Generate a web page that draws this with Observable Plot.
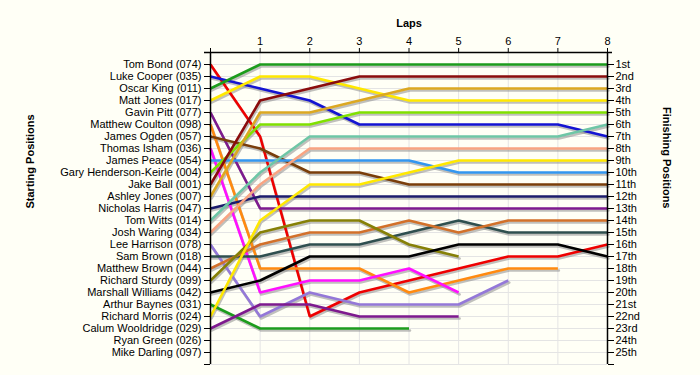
<!DOCTYPE html>
<html>
<head>
<meta charset="utf-8">
<script src="https://cdn.jsdelivr.net/npm/d3@7"></script>
<script src="https://cdn.jsdelivr.net/npm/@observablehq/plot@0.6"></script>
<style>
  html, body { margin: 0; padding: 0; background: #fffff6; }
</style>
</head>
<body>
<div id="chart"></div>
<script>
const laps = [0, 1, 2, 3, 4, 5, 6, 7, 8];

const startNames = [
  "Tom Bond (074)", "Luke Cooper (035)", "Oscar King (011)", "Matt Jones (017)",
  "Gavin Pitt (077)", "Matthew Coulton (098)", "James Ogden (057)", "Thomas Isham (036)",
  "James Peace (054)", "Gary Henderson-Keirle (004)", "Jake Ball (001)", "Ashley Jones (007)",
  "Nicholas Harris (047)", "Tom Witts (014)", "Josh Waring (034)", "Lee Harrison (078)",
  "Sam Brown (018)", "Matthew Brown (044)", "Richard Sturdy (099)", "Marshall Williams (042)",
  "Arthur Baynes (031)", "Richard Morris (024)", "Calum Wooldridge (029)", "Ryan Green (026)",
  "Mike Darling (097)"
];

const finishLabels = [
  "1st", "2nd", "3rd", "4th", "5th", "6th", "7th", "8th", "9th", "10th",
  "11th", "12th", "13th", "14th", "15th", "16th", "17th", "18th", "19th", "20th",
  "21st", "22nd", "23rd", "24th", "25th"
];

// position at each lap (index = lap), one list per driver in starting order
const positions = [
  [1, 7, 22, 20, 19, 18, 17, 17, 16],
  [2, 3, 4, 6, 6, 6, 6, 6, 7],
  [3, 1, 1, 1, 1, 1, 1, 1, 1],
  [4, 2, 2, 3, 4, 4, 4, 4, 4],
  [5, 13, 13, 13, 13, 13, 13, 13, 13],
  [6, 18, 18, 18, 20, 19, 18, 18],
  [7, 8, 10, 10, 11, 11, 11, 11, 11],
  [8, 20, 19, 19, 18, 20],
  [9, 9, 9, 9, 9, 10, 10, 10, 10],
  [10, 6, 6, 5, 5, 5, 5, 5, 5],
  [11, 4, 3, 2, 2, 2, 2, 2, 2],
  [12, 5, 5, 4, 3, 3, 3, 3, 3],
  [13, 12, 12, 12, 12, 12, 12, 12, 12],
  [14, 10, 7, 7, 7, 7, 7, 7, 6],
  [15, 11, 8, 8, 8, 8, 8, 8, 8],
  [16, 22, 20, 21, 21, 21, 19],
  [17, 17, 16, 16, 15, 14, 15, 15, 15],
  [18, 16, 15, 15, 14, 15, 14, 14, 14],
  [19, 15, 14, 14, 16, 17],
  [20, 19, 17, 17, 17, 16, 16, 16, 17],
  [21, 23, 23, 23, 23],
  [22, 14, 11, 11, 10, 9, 9, 9, 9],
  [23, 21, 21, 22, 22, 22],
  [],
  []
];

const lineColors = [
  "#ee0000", "#1414d2", "#1c9c1c", "#ffe800", "#7e1a8e", "#ff8a10", "#7a3e0a", "#ff10ff",
  "#3396f0", "#80e000", "#8a0c0c", "#dca822", "#1c1c6c", "#6ec6a6", "#f8a482", "#9478d8",
  "#2f4f4f", "#d2702a", "#868006", "#000000", "#1c9c1c", "#ffe800", "#7e1a8e", "#999999",
  "#999999"
];

const rows = positions.flatMap((p, i) =>
  p.map((pos, lap) => ({ driver: startNames[i], lap, pos, color: lineColors[i] }))
);

const posTicks = d3.range(1, 27);

const chart = Plot.plot({
  width: 700,
  height: 375,
  marginLeft: 210,
  marginRight: 93,
  marginTop: 52,
  marginBottom: 11,
  x: { domain: [0, 8] },
  y: { domain: [0, 26], reverse: true },
  color: { type: "identity" },
  style: {
    background: "#fffff6",
    fontFamily: "'Liberation Sans', Arial, sans-serif",
    fontSize: "11px",
    color: "#000"
  },
  marks: [
    Plot.gridY({ ticks: posTicks, stroke: "#e4e4e4", strokeOpacity: 1 }),
    Plot.gridX({ ticks: [1, 2, 3, 4, 5, 6, 7], stroke: "#e4e4e4", strokeOpacity: 1 }),
    Plot.line(rows, {
      x: "lap", y: "pos", z: "driver",
      stroke: "#8c8c8c", strokeOpacity: 0.55, strokeWidth: 2.6, dx: 1, dy: 2
    }),
    Plot.line(rows, {
      x: "lap", y: "pos", z: "driver",
      stroke: "color", strokeWidth: 2.6, strokeLinejoin: "miter", strokeLinecap: "butt"
    }),
    Plot.ruleX([0, 8], { stroke: "#000", strokeWidth: 1.5 }),
    Plot.ruleY([0], { stroke: "#000", strokeWidth: 1.5, insetLeft: -6, insetRight: -5 }),
    Plot.axisX({
      anchor: "top", ticks: laps, tickSize: 5, tickPadding: 3,
      tickFormat: d => (d === 0 ? "" : String(d)), label: null
    }),
    Plot.axisY({
      anchor: "left", ticks: posTicks, tickSize: 6, tickPadding: 3,
      tickFormat: d => startNames[d - 1] ?? "", label: null
    }),
    Plot.axisY({
      anchor: "right", ticks: posTicks, tickSize: 6, tickPadding: 2,
      tickFormat: d => finishLabels[d - 1] ?? "", label: null
    }),
    Plot.text(["Laps"], {
      text: d => d, frameAnchor: "top", dy: -33, fontWeight: "bold", fontSize: 11
    }),
    Plot.text(["Starting Positions"], {
      text: d => d, frameAnchor: "left", dx: -180, rotate: -90, fontWeight: "bold", fontSize: 11
    }),
    Plot.text(["Finishing Positions"], {
      text: d => d, frameAnchor: "right", dx: 59, rotate: 90, fontWeight: "bold", fontSize: 11
    })
  ]
});

document.getElementById("chart").appendChild(chart);
</script>
</body>
</html>
